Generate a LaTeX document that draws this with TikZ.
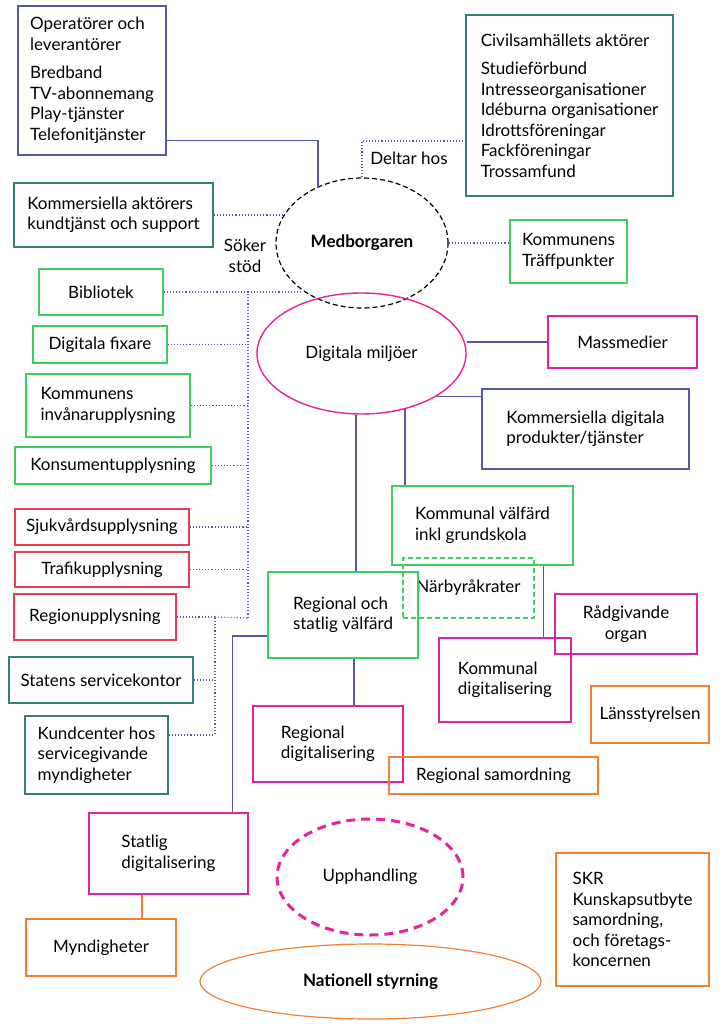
\documentclass[tikz,border=0pt]{standalone}
\usepackage{fontspec}
\setmainfont{Lato}
\usetikzlibrary{shapes.geometric}

\definecolor{lineblue}{RGB}{88,88,168}
\definecolor{boxteal}{RGB}{52,128,120}
\definecolor{boxgreen}{RGB}{64,204,96}
\definecolor{boxred}{RGB}{232,60,88}
\definecolor{boxpink}{RGB}{230,34,156}
\definecolor{boxorange}{RGB}{240,128,50}

\newcommand{\boxfont}{\fontsize{17}{20.5}\selectfont}

\tikzset{
  box/.style={draw, rectangle, line width=1.4pt, align=left, inner sep=0pt, text=black, font=\boxfont},
  bluebox/.style={box, draw=lineblue},
  tealbox/.style={box, draw=boxteal},
  greenbox/.style={box, draw=boxgreen},
  redbox/.style={box, draw=boxred},
  pinkbox/.style={box, draw=boxpink},
  orangebox/.style={box, draw=boxorange},
  oval/.style={draw, ellipse, inner sep=0pt, align=center, text=black, font=\boxfont},
  conn/.style={lineblue, line width=1.5pt},
  dots/.style={lineblue, line width=1.1pt, dash pattern=on 1.1pt off 2pt},
  lbl/.style={align=center, font=\boxfont}
}

\begin{document}
\begin{tikzpicture}[x=1pt, y=-1pt]
    \useasboundingbox (0,0) rectangle (725,1024);
    % top row
    \node[bluebox, minimum width=148pt, minimum height=149pt] (oper) at (92,80.5)
        {Operatörer och\\leverantörer\\[8pt]Bredband\\TV-abonnemang\\Play-tjänster\\Telefonitjänster};
    \node[tealbox, minimum width=207pt, minimum height=181pt] (civ) at (569.5,105.5)
        {Civilsamhällets aktörer\\[8pt]Studieförbund\\Intresseorganisationer\\Idéburna organisationer\\Idrottsföreningar\\Fackföreningar\\Trossamfund};
    \node[tealbox, minimum width=199pt, minimum height=64pt] (komakt) at (113.5,215) {Kommersiella aktörers\\kundtjänst och support};
    \node[greenbox, minimum width=117pt, minimum height=63pt] (traff) at (568.5,251.5) {Kommunens\\Träffpunkter};
    \node[oval, draw=black, dashed, line width=1.2pt, dash pattern=on 5pt off 3pt, minimum width=172pt, minimum height=130pt] (medb) at (362,243) {\bfseries Medborgaren};
    \node[lbl] (soker) at (245,256) {Söker\\stöd};
    \node[lbl] (deltar) at (409,158) {Deltar hos};

    % left column
    \node[greenbox, minimum width=124pt, minimum height=46pt] (bibl) at (101,292) {Bibliotek};
    \node[greenbox, minimum width=134pt, minimum height=37pt] (fix) at (100,344.5) {Digitala fixare};
    \node[greenbox, minimum width=164pt, minimum height=63pt] (invan) at (108,405.5) {Kommunens\\invånarupplysning};
    \node[greenbox, minimum width=196pt, minimum height=37pt] (kons) at (113,465.5) {Konsumentupplysning};
    \node[redbox, minimum width=174pt, minimum height=36pt] (sjuk) at (102,527) {Sjukvårdsupplysning};
    \node[redbox, minimum width=174pt, minimum height=35pt] (trafik) at (102,569.5) {Trafikupplysning};
    \node[redbox, minimum width=162pt, minimum height=46pt] (regup) at (95,617) {Regionupplysning};
    \node[tealbox, minimum width=184pt, minimum height=46pt] (statserv) at (101,680) {Statens servicekontor};
    \node[tealbox, minimum width=143pt, minimum height=78pt] (kund) at (96.5,755) {Kundcenter hos\\servicegivande\\myndigheter};

    % middle
    \node[oval, draw=boxpink, line width=1.4pt, minimum width=209pt, minimum height=121pt] (dig) at (361.5,353.5) {Digitala miljöer};
    \node[pinkbox, minimum width=149pt, minimum height=52pt] (mass) at (622.5,342) {Massmedier};
    \node[bluebox, minimum width=207pt, minimum height=80pt] (kdp) at (585.5,429) {Kommersiella digitala\\produkter/tjänster};
    \node[greenbox, minimum width=181pt, minimum height=79pt] (kvf) at (482.5,525.5) {Kommunal välfärd\\inkl grundskola};
    \node[greenbox, dashed, dash pattern=on 5pt off 3pt, minimum width=131pt, minimum height=60pt] (narb) at (468.5,588) {Närbyråkrater};
    \node[greenbox, minimum width=150pt, minimum height=86pt] (regst) at (343,615) {Regional och\\statlig välfärd};
    \node[pinkbox, align=center, minimum width=142pt, minimum height=60pt] (rad) at (626,624) {Rådgivande\\organ};
    \node[pinkbox, minimum width=132pt, minimum height=84pt] (kdig) at (505,680) {Kommunal\\digitalisering};
    \node[orangebox, minimum width=118pt, minimum height=57pt] (lans) at (650,714.5) {Länsstyrelsen};
    \node[pinkbox, minimum width=150pt, minimum height=76pt] (regdig) at (328,744) {Regional\\digitalisering};
    \node[orangebox, minimum width=209pt, minimum height=37pt] (regsam) at (493.5,775.5) {Regional samordning};

    % bottom
    \node[pinkbox, minimum width=159pt, minimum height=81pt] (statdig) at (168.5,853.5) {Statlig\\digitalisering};
    \node[orangebox, minimum width=150pt, minimum height=57pt] (myn) at (101,947.5) {Myndigheter};
    \node[oval, draw=boxpink, line width=3pt, dash pattern=on 9pt off 6pt, minimum width=186pt, minimum height=116pt] (upph) at (370,877) {Upphandling};
    \node[oval, draw=boxorange, line width=1.2pt, minimum width=341pt, minimum height=75pt] (nat) at (370.5,981.5) {\bfseries Nationell styrning};
    \node[orangebox, minimum width=153pt, minimum height=133pt] (skr) at (632.5,919.5) {SKR\\Kunskapsutbyte\\samordning,\\och företags-\\koncernen};

    % junctions of the dotted network
    \coordinate (jA) at (248,291);
    \coordinate (jB) at (248,618);
    \coordinate (jC) at (215,618);
    \coordinate (jD) at (215,735);

    % solid connectors
    \draw[conn] ([yshift=15pt]oper.south east) -| (medb.128);
    \draw[conn] (mass.west) -- (mass.west -| dig.east);
    \draw[conn] (dig.-30) -- (dig.-30 -| kdp.west);
    \draw[conn] (dig.265) -- (dig.265 |- regst.north);
    \draw[conn] (dig.-52) -- (dig.-52 |- kvf.north);
    \draw[conn] ([xshift=11pt]regst.south) -- ([xshift=11pt]regst.south |- regdig.north);
    \draw[conn] ([yshift=-21pt]regst.west) -| ([xshift=-16pt]statdig.north east);
    \draw[conn] ([xshift=-30pt]kvf.south east) -- ([xshift=-30pt]kvf.south east |- kdig.north);
    \draw[boxorange, line width=1.5pt] ([xshift=-26.5pt]statdig.south) -- ([xshift=-26.5pt]statdig.south |- myn.north);

    % dotted connectors
    \draw[dots] (medb.north) |- ([yshift=-35.5pt]civ.west);
    \draw[dots] (medb.east) -- (medb.east -| traff.west);
    \draw[dots] (komakt.east) -- (komakt.east -| medb.160);
    \draw[dots] (bibl.east) -- (bibl.east -| medb.south west);
    \draw[dots] (jA) -- (jB);
    \foreach \n in {fix,invan,kons,sjuk,trafik} {\draw[dots] (\n.east) -- (\n.east -| jA);}
    \draw[dots] (regup.east -| jC) -- (jB);
    \draw[dots] (regup.east) -- (regup.east -| jC);
    \draw[dots] (jC) -- (jD);
    \draw[dots] (statserv.east) -- (statserv.east -| jC);
    \draw[dots] (kund.east |- jD) -- (jD);
\end{tikzpicture}
\end{document}
